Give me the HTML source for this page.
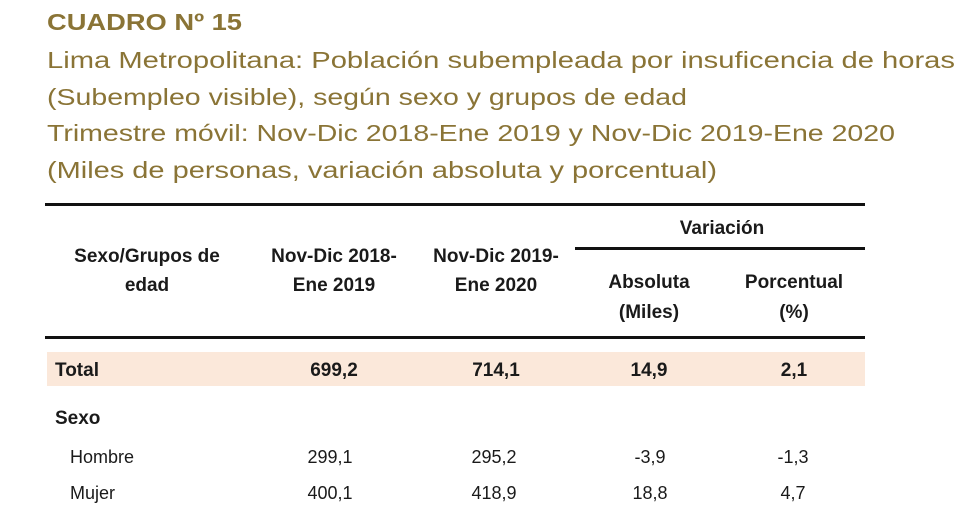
<!DOCTYPE html>
<html><head><meta charset="utf-8"><style>
body{margin:0;background:#fff;width:980px;height:513px;overflow:hidden}
svg{display:block}
.t{font-family:"Liberation Sans",sans-serif;fill:#8a7436;font-size:23px}
.h{font-family:"Liberation Sans",sans-serif;font-weight:bold;font-size:19px;fill:#1a1a1a}
.v{font-family:"Liberation Sans",sans-serif;font-size:18px;fill:#1a1a1a}
</style></head><body>
<svg width="980" height="513">
<g>
<text class="t" x="47" y="30" font-weight="bold" textLength="195" lengthAdjust="spacingAndGlyphs">CUADRO Nº 15</text>
<text class="t" x="47" y="68" textLength="908" lengthAdjust="spacingAndGlyphs">Lima Metropolitana: Población subempleada por insuficencia de horas</text>
<text class="t" x="47" y="105" textLength="640" lengthAdjust="spacingAndGlyphs">(Subempleo visible), según sexo y grupos de edad</text>
<text class="t" x="47" y="141" textLength="848" lengthAdjust="spacingAndGlyphs">Trimestre móvil: Nov-Dic 2018-Ene 2019 y Nov-Dic 2019-Ene 2020</text>
<text class="t" x="47" y="178" textLength="670" lengthAdjust="spacingAndGlyphs">(Miles de personas, variación absoluta y porcentual)</text>
</g>
<rect x="45" y="203" width="820" height="3" fill="#111"/>
<rect x="575" y="247" width="290" height="3" fill="#111"/>
<rect x="45" y="336" width="820" height="3" fill="#111"/>
<rect x="47" y="352" width="818" height="34" fill="#fbe8da"/>
<g class="h" text-anchor="middle">
<text class="h" x="147" y="262">Sexo/Grupos de</text>
<text class="h" x="147" y="291">edad</text>
<text class="h" x="334" y="262">Nov-Dic 2018-</text>
<text class="h" x="334" y="291">Ene 2019</text>
<text class="h" x="496" y="262">Nov-Dic 2019-</text>
<text class="h" x="496" y="291">Ene 2020</text>
<text class="h" x="722" y="234">Variación</text>
<text class="h" x="649" y="288">Absoluta</text>
<text class="h" x="649" y="318">(Miles)</text>
<text class="h" x="794" y="288">Porcentual</text>
<text class="h" x="794" y="318">(%)</text>
</g>
<g text-anchor="middle">
<text class="h" x="55" y="376" text-anchor="start">Total</text>
<text class="h" x="334" y="376">699,2</text>
<text class="h" x="496" y="376">714,1</text>
<text class="h" x="649" y="376">14,9</text>
<text class="h" x="794" y="376">2,1</text>
</g>
<text class="h" x="55" y="424">Sexo</text>
<g text-anchor="middle">
<text class="v" x="70" y="463" text-anchor="start">Hombre</text>
<text class="v" x="330" y="463">299,1</text>
<text class="v" x="494" y="463">295,2</text>
<text class="v" x="650" y="463">-3,9</text>
<text class="v" x="793" y="463">-1,3</text>
</g>
<g text-anchor="middle">
<text class="v" x="70" y="499" text-anchor="start">Mujer</text>
<text class="v" x="330" y="499">400,1</text>
<text class="v" x="494" y="499">418,9</text>
<text class="v" x="650" y="499">18,8</text>
<text class="v" x="793" y="499">4,7</text>
</g>
</svg>
</body></html>
